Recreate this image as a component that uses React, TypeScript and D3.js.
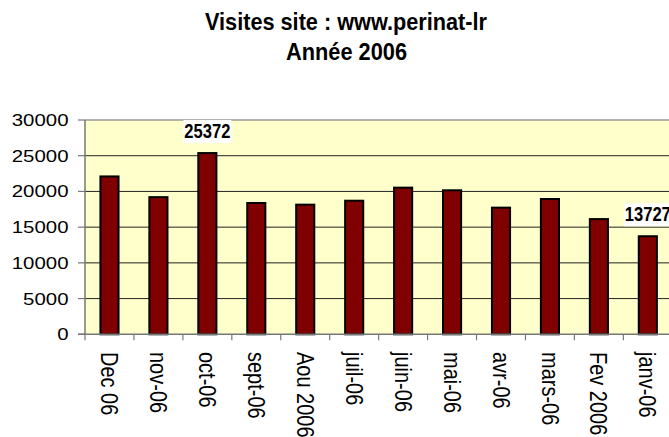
import React from "react";
import * as d3 from "d3";

const months = ["Dec 06", "nov-06", "oct-06", "sept-06", "Aou 2006", "juil-06", "juin-06", "mai-06", "avr-06", "mars-06", "Fev 2006", "janv-06"];
const visits = [22100, 19200, 25372, 18380, 18150, 18700, 20530, 20160, 17730, 18940, 16130, 13727];
const yTicks = [0, 5000, 10000, 15000, 20000, 25000, 30000];
const labelled = ["oct-06", "janv-06"];
const titleLines = ["Visites site : www.perinat-lr", "Année 2006"];

const W = 669;
const H = 437;
const plotLeft = 85;
const plotRight = 672.3;
const plotTop = 120;
const plotBottom = 334.3;

const narrow = "'Liberation Sans', Arial, sans-serif";
const sans = "'Liberation Sans', Arial, sans-serif";

export default function App() {
  const x = d3.scaleBand<string>().domain(months).range([plotLeft, plotRight]).paddingInner(0).paddingOuter(0);
  const y = d3.scaleLinear().domain([0, 30000]).range([plotBottom, plotTop]);
  const bw = x.bandwidth();
  const barW = bw * 0.37;

  return (
    <svg width={W} height={H} style={{ position: "absolute", left: 0, top: 0, background: "#fff" }}>
      {/* title */}
      <text x={346} y={30} textAnchor="middle" fontFamily={narrow} fontWeight="bold" fontSize={23}
        textLength={282} lengthAdjust="spacingAndGlyphs" fill="#000">{titleLines[0]}</text>
      <text x={346.5} y={60} textAnchor="middle" fontFamily={narrow} fontWeight="bold" fontSize={23}
        textLength={121} lengthAdjust="spacingAndGlyphs" fill="#000">{titleLines[1]}</text>

      {/* plot bg */}
      <rect x={plotLeft} y={plotTop} width={plotRight - plotLeft} height={plotBottom - plotTop} fill="#FFFFCC" />

      {/* gridlines */}
      {yTicks.filter(t => t > 0).map(t => (
        <line key={t} x1={plotLeft} x2={plotRight} y1={y(t)} y2={y(t)}
          stroke={t === 30000 ? "#999" : "#222"} strokeWidth={t === 30000 ? 1.5 : 1} />
      ))}

      {/* bars */}
      {months.map((m, i) => (
        <rect key={m} x={(x(m) as number) + bw / 2 - barW / 2} y={y(visits[i])}
          width={barW} height={plotBottom - y(visits[i])} fill="#800000" stroke="#000" strokeWidth={2} />
      ))}

      {/* axes */}
      <line x1={plotLeft} x2={plotLeft} y1={plotTop} y2={plotBottom} stroke="#777" strokeWidth={1.5} />
      <line x1={plotLeft - 7} x2={plotRight} y1={plotBottom} y2={plotBottom} stroke="#777" strokeWidth={1.5} />
      {yTicks.map(t => (
        <line key={"yt" + t} x1={plotLeft - 7} x2={plotLeft} y1={y(t)} y2={y(t)} stroke="#777" strokeWidth={1.2} />
      ))}
      {months.map(m => (
        <line key={"xt" + m} x1={x(m) as number} x2={x(m) as number} y1={plotBottom} y2={plotBottom + 6} stroke="#777" strokeWidth={1.2} />
      ))}

      {/* y tick labels */}
      {yTicks.map(t => {
        const s = String(t);
        return (
          <text key={"yl" + t} x={68.5} y={y(t) + 6} textAnchor="end" fontFamily={sans} fontSize={16}
            textLength={s.length * 11.35} lengthAdjust="spacingAndGlyphs" fill="#000">{s}</text>
        );
      })}

      {/* x tick labels */}
      {months.map(m => {
        const cx = (x(m) as number) + bw / 2;
        return (
          <g key={"xl" + m} transform={`translate(${cx},352) scale(1.17,1) rotate(90)`}>
            <text x={0} y={7.2} fontFamily={sans} fontSize={20} fill="#000">{m}</text>
          </g>
        );
      })}

      {/* data labels */}
      {months.map((m, i) => {
        if (!labelled.includes(m)) return null;
        const cx = (x(m) as number) + bw / 2;
        const top = y(visits[i]);
        const s = String(visits[i]);
        return (
          <g key={"dl" + m}>
            <rect x={cx - 24} y={top - 33} width={48} height={23} fill="#fff" />
            <text x={cx} y={top - 15.5} textAnchor="middle" fontFamily={narrow} fontWeight="bold" fontSize={20}
              textLength={46} lengthAdjust="spacingAndGlyphs" fill="#000">{s}</text>
          </g>
        );
      })}
    </svg>
  );
}
